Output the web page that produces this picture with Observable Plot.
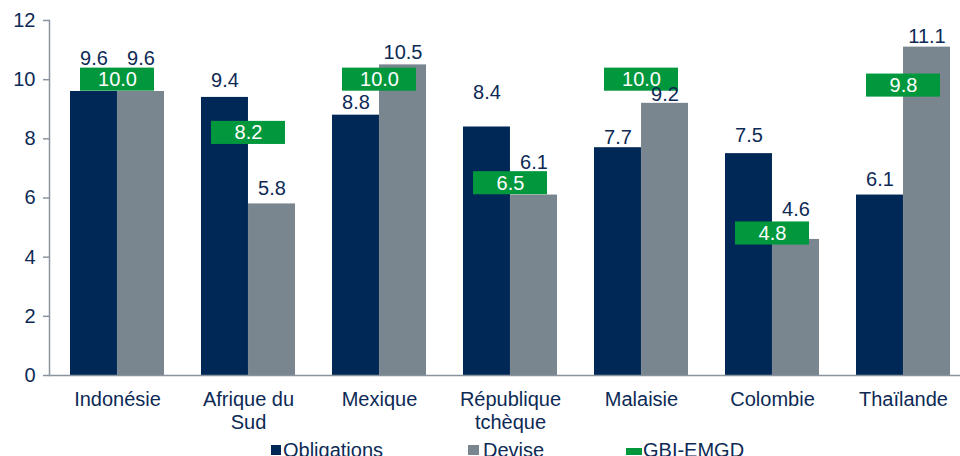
<!DOCTYPE html>
<html>
<head>
<meta charset="utf-8">
<script src="https://cdn.jsdelivr.net/npm/d3@7"></script>
<script src="https://cdn.jsdelivr.net/npm/@observablehq/plot@0.6"></script>
<style>
  html, body { margin: 0; padding: 0; overflow: hidden; background: #fff; }
  body { width: 960px; height: 456px; font-family: "Liberation Sans", Arial, sans-serif; }
  #chart { width: 970px; height: 438px; }
  #chart svg { max-width: none !important; width: 970px !important; height: 438px !important; display: block; }
  #legend { position: relative; height: 18px; font-size: 20px; color: #0d2a55; }
  #legend .item { position: absolute; top: 2px; line-height: 20px; white-space: nowrap; }
  #legend .sw { position: absolute; }
</style>
</head>
<body>
<div id="chart"></div>
<div id="legend"></div>
<script>
// ---- data ----
const categories = ["Indonésie", "Afrique du Sud", "Mexique", "République tchèque", "Malaisie", "Colombie", "Thaïlande"];
const tickLabels = ["Indonésie", "Afrique du\nSud", "Mexique", "République\ntchèque", "Malaisie", "Colombie", "Thaïlande"];
const obligations = [9.6, 9.4, 8.8, 8.4, 7.7, 7.5, 6.1];
const devise = [9.6, 5.8, 10.5, 6.1, 9.2, 4.6, 11.1];
const gbiEmgd = [10.0, 8.2, 10.0, 6.5, 10.0, 4.8, 9.8];
const yTicks = [0, 2, 4, 6, 8, 10, 12];
const seriesNames = ["Obligations", "Devise", "GBI-EMGD"];

// ---- layout / style (not data) ----
const navy = "#002857", gray = "#79858f", green = "#00973d", textColor = "#0d2a55", axisColor = "#8a949e";
const liftObl = [33, 17, 13, 34, 10, 18, 15];   // label lift above bar top (px)
const liftDev = [33, 15, 12, 32, 9, 30, 11];
const FS = 20;

const rows = categories.map((c, i) => ({
  cat: c, label: tickLabels[i], obl: obligations[i], dev: devise[i], gbi: gbiEmgd[i],
  liftObl: liftObl[i], liftDev: liftDev[i]
}));
const labelOf = new Map(rows.map(d => [d.cat, d.label]));

const half = 0.39;
const plot = Plot.plot({
  width: 970,
  height: 438,
  marginTop: 20,
  marginBottom: 63,
  marginLeft: 49,
  marginRight: 0,
  style: { fontFamily: "'Liberation Sans', Arial, sans-serif", fontSize: FS + "px", color: textColor, background: "#fff", maxWidth: "none" },
  x: { type: "band", domain: categories, range: [49, 970], paddingInner: 0.285, paddingOuter: 0.1425, align: 0.5 },
  y: { domain: [0, 12], range: [375, 20] },
  marks: [
    Plot.barY(rows, { x: "cat", y: "obl", fill: navy, insetRight: 47.03, insetLeft: 0 }),
    Plot.barY(rows, { x: "cat", y: "dev", fill: gray, insetLeft: 47.03, insetRight: 0 }),
    Plot.barY(rows, { x: "cat", y1: d => d.gbi - half, y2: d => d.gbi + half, fill: green, insetLeft: 10, insetRight: 10 }),
    Plot.text(rows, { x: "cat", y: "gbi", text: d => d.gbi.toFixed(1), fill: "#fff", fontSize: FS }),
    ...rows.map(d => Plot.text([d], { x: "cat", y: "obl", text: r => r.obl.toFixed(1), fill: textColor, fontSize: FS, dx: -23.5, dy: -d.liftObl })),
    ...rows.map(d => Plot.text([d], { x: "cat", y: "dev", text: r => r.dev.toFixed(1), fill: textColor, fontSize: FS, dx: 23.5, dy: -d.liftDev })),
    Plot.ruleY([0], { stroke: axisColor, strokeWidth: 1.5 }),
    Plot.frame({ anchor: "left", stroke: axisColor, strokeWidth: 1.5 }),
    Plot.axisY({ ticks: yTicks, tickSize: 6, tickPadding: 8, fontSize: FS, fill: textColor, stroke: axisColor, strokeWidth: 1.5, label: null, tickFormat: d => String(d) }),
    Plot.axisX({ tickSize: 0, tickPadding: 15, fontSize: FS, fill: textColor, lineHeight: 1.12, label: null, tickFormat: c => labelOf.get(c) })
  ]
});
document.getElementById("chart").appendChild(plot);

// ---- legend (HTML, below the SVG) ----
const legend = document.getElementById("legend");
const legendItems = [
  { name: seriesNames[0], color: navy, left: 271, sw: { w: 10, h: 10, top: 7 }, textLeft: 283 },
  { name: seriesNames[1], color: gray, left: 468, sw: { w: 11, h: 10, top: 7 }, textLeft: 483 },
  { name: seriesNames[2], color: green, left: 626, sw: { w: 16, h: 7, top: 10 }, textLeft: 643 }
];
legendItems.forEach(it => {
  const sw = document.createElement("div");
  sw.className = "sw";
  sw.style.left = it.left + "px";
  sw.style.top = it.sw.top + "px";
  sw.style.width = it.sw.w + "px";
  sw.style.height = it.sw.h + "px";
  sw.style.background = it.color;
  legend.appendChild(sw);
  const t = document.createElement("div");
  t.className = "item";
  t.style.left = it.textLeft + "px";
  t.textContent = it.name;
  legend.appendChild(t);
});
</script>
</body>
</html>
